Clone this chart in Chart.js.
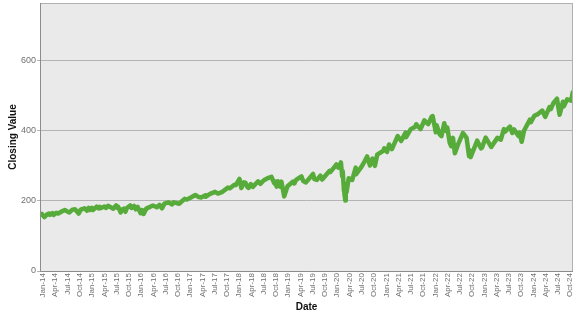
<!DOCTYPE html>
<html>
<head>
<meta charset="utf-8">
<script src="https://cdn.jsdelivr.net/npm/chart.js@4.4.1/dist/chart.umd.min.js"></script>
<style>
  html, body { margin: 0; padding: 0; background: #ffffff; }
  canvas { display: block; }
</style>
</head>
<body>
<canvas id="closeChart" width="577" height="315"></canvas>
<script>
const START_YEAR = 2014;
const QUARTERS = ["Jan", "Apr", "Jul", "Oct"];
const YEARS = ["14", "15", "16", "17", "18", "19", "20", "21", "22", "23", "24"];
const Y_TICKS = [0, 200, 400, 600];

const dates = [
  "2014-01-02", "2014-01-15", "2014-02-03", "2014-02-20", "2014-03-07", "2014-03-14", "2014-04-02", "2014-04-11",
  "2014-04-30", "2014-05-15", "2014-06-20", "2014-07-03", "2014-07-31", "2014-08-07", "2014-08-29", "2014-09-18",
  "2014-10-15", "2014-10-31", "2014-11-28", "2014-12-16", "2014-12-29",
  "2015-01-06", "2015-01-22", "2015-01-30", "2015-02-25", "2015-03-10", "2015-03-20", "2015-03-26", "2015-04-24",
  "2015-05-06", "2015-05-21", "2015-06-29", "2015-07-20", "2015-07-27", "2015-08-05", "2015-08-24", "2015-08-27",
  "2015-09-16", "2015-09-28", "2015-10-09", "2015-11-03", "2015-11-13", "2015-12-01", "2015-12-14", "2015-12-29",
  "2016-01-20", "2016-02-01", "2016-02-11", "2016-03-01", "2016-04-20", "2016-05-19", "2016-06-08", "2016-06-27",
  "2016-07-14", "2016-08-15", "2016-09-09", "2016-09-22", "2016-11-04", "2016-11-25", "2016-12-13", "2016-12-30",
  "2017-01-26", "2017-03-01", "2017-03-27", "2017-04-13", "2017-05-16", "2017-05-17", "2017-06-19", "2017-07-27",
  "2017-08-18", "2017-09-20", "2017-10-31", "2017-11-15", "2017-12-18", "2017-12-29",
  "2018-01-26", "2018-02-08", "2018-02-26", "2018-03-09", "2018-03-23", "2018-04-02", "2018-04-18", "2018-05-03",
  "2018-06-12", "2018-06-28", "2018-07-25", "2018-08-29", "2018-09-20", "2018-10-11", "2018-10-17", "2018-10-29",
  "2018-11-07", "2018-11-23", "2018-12-03", "2018-12-24",
  "2019-01-18", "2019-02-25", "2019-03-08", "2019-03-21", "2019-04-30", "2019-05-13", "2019-06-03", "2019-07-26",
  "2019-08-05", "2019-08-23", "2019-09-19", "2019-10-02", "2019-11-27", "2019-12-03", "2019-12-31",
  "2020-01-17", "2020-01-31", "2020-02-19", "2020-02-28", "2020-03-03", "2020-03-12", "2020-03-13", "2020-03-16",
  "2020-03-23", "2020-03-26", "2020-04-01", "2020-04-17", "2020-05-13", "2020-06-08", "2020-06-11", "2020-07-22",
  "2020-08-14", "2020-09-02", "2020-09-23", "2020-10-12", "2020-10-30", "2020-11-16", "2020-12-31",
  "2021-01-08", "2021-01-29", "2021-02-12", "2021-03-04", "2021-04-16", "2021-05-12", "2021-06-14", "2021-06-18",
  "2021-07-23", "2021-08-27", "2021-09-02", "2021-10-04", "2021-11-02", "2021-11-30", "2021-12-27",
  "2022-01-03", "2022-01-27", "2022-02-02", "2022-02-23", "2022-03-08", "2022-03-29", "2022-04-12", "2022-04-20",
  "2022-05-09", "2022-05-20", "2022-06-02", "2022-06-16", "2022-07-08", "2022-08-16", "2022-09-12", "2022-09-30",
  "2022-10-04", "2022-10-12", "2022-11-30", "2022-12-28",
  "2023-01-05", "2023-02-02", "2023-03-13", "2023-04-28", "2023-05-24", "2023-06-16", "2023-06-26", "2023-07-31",
  "2023-08-18", "2023-09-01", "2023-10-03", "2023-10-12", "2023-10-27", "2023-11-14", "2023-12-28",
  "2024-01-04", "2024-01-30", "2024-02-21", "2024-03-28", "2024-04-19", "2024-05-21", "2024-05-31", "2024-06-20",
  "2024-07-16", "2024-07-25", "2024-08-05", "2024-08-30", "2024-09-06", "2024-09-30", "2024-10-31", "2024-11-11"
];

const closes = [
  160, 163, 154, 161, 164, 160, 165, 160,
  166, 164, 172, 174, 168, 167, 175, 176,
  164, 175, 179, 172, 180,
  174, 180, 174, 184, 179, 183, 179, 184,
  180, 186, 178, 187, 181, 183, 167, 174,
  178, 169, 180, 187, 180, 186, 176, 183,
  165, 174, 163, 178, 187, 182, 189, 179,
  192, 196, 190, 196, 192, 200, 206, 204,
  209, 217, 211, 210, 216, 212, 220, 226,
  221, 226, 238, 236, 246, 245,
  263, 237, 253, 252, 240, 237, 248, 240,
  256, 249, 259, 266, 269, 250, 256, 241,
  256, 241, 255, 213,
  242, 255, 250, 260, 270, 257, 253, 277,
  262, 260, 272, 261, 286, 283, 296,
  304, 295, 310, 270, 285, 229, 250, 219,
  201, 240, 225, 265, 260, 295, 276, 298,
  313, 327, 301, 321, 300, 332, 343,
  350, 340, 361, 348, 385, 371, 395, 382,
  405, 412, 419, 405, 430, 419, 441,
  442, 396, 416, 390, 385, 422, 400, 410,
  365, 356, 380, 336, 360, 394, 380, 328,
  345, 325, 372, 350,
  352, 381, 354, 380, 375, 405, 398, 412,
  394, 404, 385, 395, 369, 401, 432,
  425, 443, 447, 458, 440, 468, 462, 480,
  492, 470, 446, 483, 470, 490, 486, 510
];

const Y_MAX = 765;
const X_MAX = 130.4;
const FONT = "Liberation Sans, Arial, sans-serif";

function toMonth(dateStr) {
  const [y, m, d] = dateStr.split("-").map(Number);
  const days = new Date(y, m, 0).getDate();
  return (y - START_YEAR) * 12 + (m - 1) + (d - 1) / days;
}

function tickLabel(month) {
  const q = Math.round(month / 3);
  return `${QUARTERS[q % 4]}-${YEARS[Math.floor(q / 4)]}`;
}

const plotBackground = {
  id: "plotBackground",
  beforeDraw(chart) {
    const { ctx, chartArea: a } = chart;
    ctx.save();
    ctx.fillStyle = "#eaeaea";
    ctx.fillRect(a.left, a.top, a.right - a.left, a.bottom - a.top);
    ctx.restore();
  },
  afterDraw(chart) {
    const { ctx, chartArea: a } = chart;
    ctx.save();
    ctx.strokeStyle = "#b0b0b0";
    ctx.lineWidth = 1;
    ctx.strokeRect(a.left + 0.5, a.top + 0.5, a.right - a.left - 1, a.bottom - a.top);
    ctx.strokeStyle = "#8c8c8c";
    ctx.beginPath();
    ctx.moveTo(a.left + 0.5, a.top);
    ctx.lineTo(a.left + 0.5, a.bottom + 0.5);
    ctx.lineTo(a.right, a.bottom + 0.5);
    ctx.stroke();
    ctx.restore();
  },
};

function createChart() {
  const points = dates.map((d, i) => ({ x: toMonth(d), y: closes[i] }));
  const ctx = document.getElementById("closeChart").getContext("2d");
  return new Chart(ctx, {
    type: "line",
    data: {
      datasets: [
        {
          label: "Closing Value",
          data: points,
          borderColor: "#57ab3a",
          borderWidth: 4.5,
          borderJoinStyle: "round",
          borderCapStyle: "round",
          pointRadius: 0,
          tension: 0,
        },
      ],
    },
    options: {
      responsive: false,
      animation: false,
      devicePixelRatio: 1,
      layout: { padding: { top: 3, right: 4, left: 0, bottom: 0 } },
      plugins: { legend: { display: false }, tooltip: { enabled: false } },
      scales: {
        x: {
          type: "linear",
          min: 0,
          max: X_MAX,
          grid: { display: false, drawTicks: false },
          border: { display: false },
          afterFit: (scale) => {
            scale.height = 44;
            scale.paddingLeft = 0;
            scale.paddingRight = 0;
          },
          afterBuildTicks: (scale) => {
            const ticks = [];
            for (let m = 0; m <= X_MAX; m += 3) ticks.push({ value: m });
            scale.ticks = ticks;
          },
          ticks: {
            autoSkip: false,
            minRotation: 90,
            maxRotation: 90,
            padding: 2,
            labelOffset: 3,
            color: "#707070",
            font: { family: FONT, size: 8 },
            callback: (value) => tickLabel(value),
          },
          title: {
            display: true,
            text: "Date",
            color: "#111111",
            padding: { top: 0, bottom: 2 },
            font: { family: FONT, size: 10, weight: "bold" },
          },
        },
        y: {
          min: 0,
          max: Y_MAX,
          afterFit: (scale) => {
            scale.width = 40;
            scale.paddingTop = 0;
            scale.paddingBottom = 0;
          },
          afterBuildTicks: (scale) => {
            scale.ticks = Y_TICKS.map((v) => ({ value: v }));
          },
          grid: { color: "#b4b4b4", drawTicks: true, tickLength: 3, lineWidth: 1 },
          border: { display: false },
          ticks: {
            padding: 1,
            color: "#707070",
            font: { family: FONT, size: 9 },
          },
          title: {
            display: true,
            text: "Closing Value",
            color: "#111111",
            padding: { top: 7, bottom: 0 },
            font: { family: FONT, size: 10, weight: "bold" },
          },
        },
      },
    },
    plugins: [plotBackground],
  });
}

createChart();
</script>
</body>
</html>
